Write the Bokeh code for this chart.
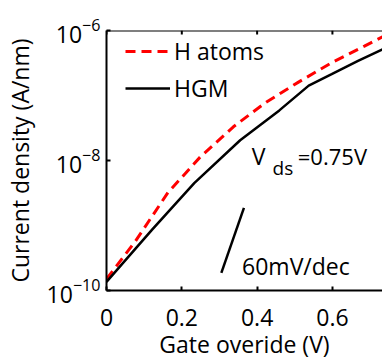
from bokeh.plotting import figure
from bokeh.models import FixedTicker, Label, Range1d, Span
from bokeh.embed import file_html
from bokeh.resources import INLINE

# ---- data ----
gate_h_atoms = [0.0, 0.077, 0.163, 0.25, 0.337, 0.424, 0.511, 0.598, 0.685, 0.733, 0.75]
current_h_atoms = [1.5e-10, 5.75e-10, 3.2e-9, 1.15e-8, 3.3e-8, 7.9e-8, 1.62e-7,
                   3.2e-7, 5.75e-7, 8.0e-7, 8.7e-7]

gate_hgm = [0.0, 0.12, 0.233, 0.355, 0.459, 0.537, 0.598, 0.668, 0.733, 0.75]
current_hgm = [1.36e-10, 8.5e-10, 4.5e-9, 2.05e-8, 5.9e-8, 1.42e-7, 2.13e-7,
               3.41e-7, 5.1e-7, 5.6e-7]

x_ticks = [0, 0.2, 0.4, 0.6]
x_tick_labels = ["0", "0.2", "0.4", "0.6"]
y_ticks = [1e-10, 1e-8, 1e-6]

slope_x = [0.305, 0.365]          # 60 mV/dec reference line
slope_y = [10 ** -9.73, 10 ** -8.73]

FONT = "Open Sans"
FS = "23px"

Y_MIN, Y_MAX = 1e-10, 1e-6

p = figure(width=382, height=362,
           x_range=Range1d(0, 0.733), y_range=Range1d(Y_MIN, Y_MAX),
           y_axis_type="log", output_backend="svg", toolbar_location=None,
           min_border_left=106, min_border_right=0,
           min_border_top=30, min_border_bottom=63)
p.grid.visible = False
p.outline_line_color = None

p.line(gate_h_atoms, current_h_atoms, line_color="#ff0000", line_width=3,
       line_dash="10 6", legend_label="H atoms")
p.line(gate_hgm, current_hgm, line_color="black", line_width=2.5,
       legend_label="HGM")
p.line(slope_x, slope_y, line_color="black", line_width=2.5)

# axes
for ax in (p.xaxis[0], p.yaxis[0]):
    ax.axis_line_width = 2
    ax.axis_line_color = "black"
    ax.major_tick_line_width = 2
    ax.major_tick_in = 4
    ax.major_tick_out = 0
    ax.minor_tick_in = 0
    ax.minor_tick_out = 0
    ax.major_label_text_font = FONT
    ax.major_label_text_font_size = FS
    ax.major_label_text_color = "black"
    ax.axis_label_text_font = FONT
    ax.axis_label_text_font_size = FS
    ax.axis_label_text_font_style = "normal"
    ax.axis_label_text_color = "black"

p.xaxis[0].ticker = FixedTicker(ticks=x_ticks, minor_ticks=[])
p.xaxis[0].major_label_overrides = dict(zip(x_ticks, x_tick_labels))
p.xaxis[0].axis_label = "Gate overide (V)"
p.xaxis[0].major_label_standoff = 18
p.xaxis[0].axis_label_standoff = -1

p.yaxis[0].ticker = FixedTicker(ticks=y_ticks, minor_ticks=[])
p.yaxis[0].axis_label = "Current density (A/nm)"
p.yaxis[0].major_label_standoff = 6
p.yaxis[0].axis_label_standoff = 8

# top border with inward ticks
p.add_layout(Span(location=Y_MAX, dimension="width", line_color="black",
                  line_width=2))
tick_len = 10 ** (-4 / 67)
p.segment(x0=x_ticks, x1=x_ticks, y0=[Y_MAX] * len(x_ticks),
          y1=[Y_MAX * tick_len] * len(x_ticks), line_color="black",
          line_width=2)

# legend
lg = p.legend[0]
lg.location = (19, 186)
lg.border_line_color = None
lg.background_fill_alpha = 0
lg.padding = 0
lg.margin = 0
lg.spacing = 5
lg.glyph_width = 45
lg.glyph_height = 30
lg.label_height = 30
lg.label_standoff = 4
lg.label_text_font = FONT
lg.label_text_font_size = FS
lg.label_text_color = "black"

def lab(x, y, t, size=FS):
    p.add_layout(Label(x=x, y=y, text=t, text_font=FONT, text_font_size=size,
                       text_color="black", text_baseline="alphabetic",
                       text_align="left"))

lab(0.386, 10 ** -7.93, "V")
lab(0.441, 10 ** -8.12, "ds", "19px")
lab(0.508, 10 ** -7.93, "=0.75V", "22px")
lab(0.36, 10 ** -9.627, "60mV/dec")

open("out.html", "w").write(file_html(p, INLINE))
